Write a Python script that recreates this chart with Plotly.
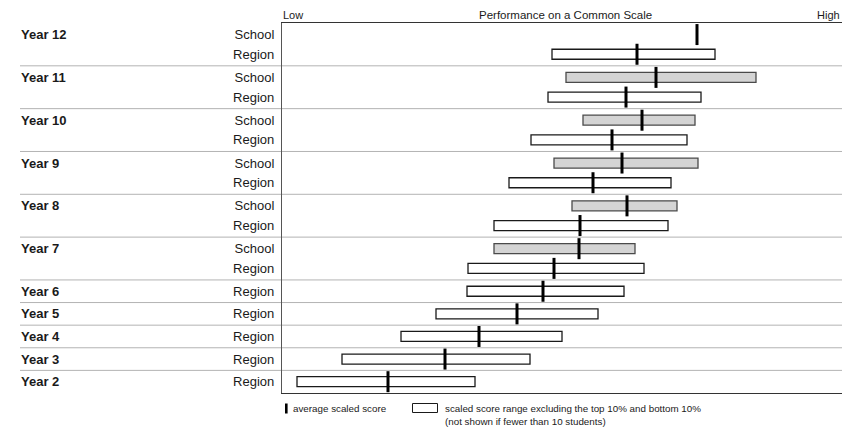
import plotly.graph_objects as go

# ---------------- data (scores on a common scale, 0 = Low) ----------------
years = ["Year 12", "Year 11", "Year 10", "Year 9", "Year 8", "Year 7",
         "Year 6", "Year 5", "Year 4", "Year 3", "Year 2"]
has_school = [True, True, True, True, True, True, False, False, False, False, False]

school_low = [None, 284, 301, 272, 290, 212]
school_mean = [415, 374, 360, 340, 345, 297]
school_high = [None, 474, 413, 416, 395, 353]

region_low = [270, 266, 249, 227, 212, 186, 185, 154, 119, 60, 15]
region_mean = [355, 344, 330, 311, 298, 272, 261, 235, 197, 163, 106]
region_high = [433, 419, 405, 389, 386, 362, 342, 316, 280, 248, 193]

x_range = [0, 560]

# ---------------- layout geometry ----------------
W, H = 842, 428
ML, MR, MT, MB = 282, 0, 23, 35
PW, PH = W - ML - MR, H - MT - MB
PAIR_H, SINGLE_H = 42.8, 22.6
FONT = "Liberation Sans, Arial, Helvetica, sans-serif"
TXT = "#1a1a1a"


def px_x(px):
    return (px - ML) / PW


def px_y(py):
    return (H - MB - py) / PH


# row positions
school_y, region_y, year_y, boundaries = [], [], [], []
top = 0.0
for i, yr in enumerate(years):
    if has_school[i]:
        h = PAIR_H
        school_y.append(top + 0.27 * h)
        region_y.append(top + 0.73 * h)
        year_y.append(top + 0.27 * h)
    else:
        h = SINGLE_H
        region_y.append(top + 0.5 * h)
        year_y.append(top + 0.5 * h)
    top += h
    boundaries.append(top)
y_total = top

fig = go.Figure()

# school ranges (grey boxes)
s_len = [(h - l) if (l is not None and h is not None) else None
         for l, h in zip(school_low, school_high)]
fig.add_trace(go.Bar(
    orientation="h", y=school_y, x=s_len, base=school_low, width=10,
    marker=dict(color="#d4d4d4", line=dict(color="#4a4a4a", width=1.3)),
    hoverinfo="skip", showlegend=False))

# region ranges (white boxes)
r_len = [h - l for l, h in zip(region_low, region_high)]
fig.add_trace(go.Bar(
    orientation="h", y=region_y, x=r_len, base=region_low, width=10,
    marker=dict(color="white", line=dict(color="#1a1a1a", width=1.3)),
    hoverinfo="skip", showlegend=False))

# average markers
fig.add_trace(go.Scatter(
    x=school_mean + region_mean, y=school_y + region_y, mode="markers",
    marker=dict(symbol="line-ns", size=15, line=dict(color="black", width=3)),
    hoverinfo="skip", showlegend=False))

# separators
shapes = []
for b in boundaries[:-1]:
    shapes.append(dict(type="line", xref="paper", yref="y",
                       x0=px_x(20), x1=1, y0=b, y1=b,
                       line=dict(color="#b3b3b3", width=1), layer="below"))

# legend symbols
shapes.append(dict(type="rect", xref="paper", yref="paper",
                   x0=px_x(285), x1=px_x(287.6), y0=px_y(413.5), y1=px_y(403.5),
                   fillcolor="black", line=dict(width=0)))
shapes.append(dict(type="rect", xref="paper", yref="paper",
                   x0=px_x(412.5), x1=px_x(437.5), y0=px_y(412.5), y1=px_y(403.5),
                   fillcolor="white", line=dict(color="#1a1a1a", width=1)))

annotations = []
# year labels
for yr, yy in zip(years, year_y):
    annotations.append(dict(text="<b>" + yr + "</b>", xref="paper", yref="y",
                            x=px_x(19), y=yy, xanchor="left", yanchor="middle",
                            showarrow=False, font=dict(size=13, color=TXT, family=FONT)))
# header
hdr_y = px_y(15)
annotations.append(dict(text="Low", xref="paper", yref="paper", x=px_x(281), y=hdr_y,
                        xanchor="left", yanchor="middle", showarrow=False,
                        font=dict(size=11, color=TXT, family=FONT)))
annotations.append(dict(text="Performance on a Common Scale", xref="paper", yref="paper",
                        x=px_x(565), y=hdr_y, xanchor="center", yanchor="middle",
                        showarrow=False, font=dict(size=11.5, color=TXT, family=FONT)))
annotations.append(dict(text="High", xref="paper", yref="paper", x=px_x(842), y=hdr_y,
                        xanchor="right", yanchor="middle", showarrow=False,
                        font=dict(size=11, color=TXT, family=FONT)))
# legend texts
annotations.append(dict(text="average scaled score", xref="paper", yref="paper",
                        x=px_x(291), y=px_y(408.5), xanchor="left", yanchor="middle",
                        showarrow=False, font=dict(size=9.8, color=TXT, family=FONT)))
annotations.append(dict(text="scaled score range excluding the top 10% and bottom 10%",
                        xref="paper", yref="paper",
                        x=px_x(443), y=px_y(408.5), xanchor="left", yanchor="middle",
                        showarrow=False, font=dict(size=9.8, color=TXT, family=FONT)))
annotations.append(dict(text="(not shown if fewer than 10 students)",
                        xref="paper", yref="paper",
                        x=px_x(443), y=px_y(421.5), xanchor="left", yanchor="middle",
                        showarrow=False, font=dict(size=9.8, color=TXT, family=FONT)))

tick_vals = school_y + region_y
tick_text = ["School"] * len(school_y) + ["Region"] * len(region_y)

fig.update_layout(
    width=W, height=H,
    margin=dict(l=ML, r=MR, t=MT, b=MB, pad=0),
    paper_bgcolor="white", plot_bgcolor="white",
    barmode="overlay",
    shapes=shapes, annotations=annotations,
    font=dict(family=FONT, color=TXT),
    xaxis=dict(range=x_range, showgrid=False, zeroline=False, showticklabels=False,
               ticks="", showline=True, mirror=True, linecolor="#333333", linewidth=1.2,
               fixedrange=True),
    yaxis=dict(range=[y_total, 0], showgrid=False, zeroline=False,
               tickmode="array", tickvals=tick_vals, ticktext=tick_text,
               ticks="outside", ticklen=4, tickcolor="rgba(0,0,0,0)",
               tickfont=dict(size=13, color=TXT, family=FONT),
               showline=True, linecolor="#555555", linewidth=1.2, fixedrange=True),
)

fig.write_html(
    "out.html",
    config={"displayModeBar": False},
    post_script="document.body.style.margin='0';document.body.style.padding='0';"
                "document.body.style.overflow='hidden';",
)
